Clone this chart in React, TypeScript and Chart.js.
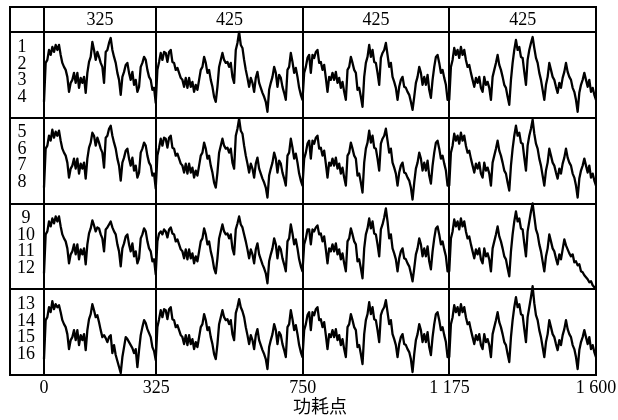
import React, { useEffect, useRef } from 'react';
import { Chart, registerables } from 'chart.js';

Chart.register(...registerables);

const X_MAX = 1600;
const X_TICKS = [0, 325, 750, 1175, 1600];
const X_TICK_LABELS = ['0', '325', '750', '1 175', '1 600'];
const X_TITLE = '功耗点';
const HEADER_LABELS = ['325', '425', '425', '425'];
const ROW_LABELS = [
  ['1', '2', '3', '4'],
  ['5', '6', '7', '8'],
  ['9', '10', '11', '12'],
  ['13', '14', '15', '16'],
];
const LABEL_LEVELS = [71, 54, 38, 21];
const Y_MAX = 86;

const ROW1 = [
  16,55,58,68,63,71,66,73,68,73,
  63,55,51,48,41,26,35,38,45,35,
  45,30,40,35,41,25,45,56,61,76,
  68,58,66,61,55,51,35,66,68,75,
  80,68,61,55,45,38,23,41,46,53,
  55,45,38,46,33,38,26,31,51,55,
  61,58,48,41,38,28,30,15,48,56,
  65,58,66,65,56,66,68,56,55,48,
  50,45,40,38,31,40,30,40,31,36,
  26,33,28,38,48,51,61,55,45,48,
  38,31,21,16,31,51,58,65,58,55,
  56,51,55,41,35,68,75,86,73,70,
  58,48,40,31,40,35,26,40,46,35,
  30,25,21,16,6,28,35,41,51,45,
  31,43,40,31,25,18,48,51,65,56,
  45,50,41,
  30,23,18,45,51,60,63,45,63,60,
  66,68,55,56,48,53,40,26,41,38,
  45,38,46,35,40,30,36,26,18,48,
  51,61,55,48,45,28,30,21,11,41,
  55,61,73,61,68,56,55,45,33,60,
  65,68,75,63,51,55,41,36,30,18,
  31,38,41,31,30,26,23,16,8,21,
  35,41,51,45,33,41,33,43,28,20,
  38,51,61,63,55,45,48,40,33,18,
  18,51,58,70,63,68,60,71,63,68,
  58,51,53,45,38,31,40,35,41,30,
  26,41,33,36,30,18,41,48,55,63,
  53,48,41,33,30,21,13,38,55,68,
  78,68,71,61,60,46,33,58,68,75,
  81,70,60,55,45,38,28,18,33,41,
  55,48,41,38,31,25,35,30,40,46,
  55,46,41,38,30,26,18,6,25,33,
  38,45,38,31,38,26,30,23,18,
];

const ROW2 = [
  16,55,58,68,63,74,66,72,68,73,
  63,55,51,48,41,26,35,38,45,35,
  45,30,40,35,41,25,45,56,61,71,
  68,58,66,61,55,51,36,66,68,75,
  78,68,61,55,45,38,23,41,46,53,
  55,45,38,46,33,38,26,31,51,55,
  61,58,48,41,38,28,30,15,48,56,
  65,58,66,65,56,66,68,56,55,48,
  50,45,40,38,31,40,30,40,31,36,
  26,33,28,38,48,51,61,55,45,48,
  38,31,21,16,31,51,58,65,58,55,
  56,51,55,41,35,68,75,85,73,70,
  58,48,40,31,40,35,26,40,46,35,
  30,25,21,16,6,28,35,41,51,45,
  31,43,40,31,25,18,48,51,65,56,
  45,50,41,
  30,23,18,45,51,60,63,45,63,60,
  66,68,55,56,48,53,40,26,41,38,
  45,38,46,35,40,30,36,26,18,48,
  51,61,55,48,45,28,30,21,11,41,
  55,61,73,61,68,56,55,45,33,60,
  65,68,75,63,51,55,41,36,30,18,
  31,38,41,31,30,26,23,16,4,21,
  35,41,51,45,33,41,33,43,28,20,
  38,51,61,63,55,45,48,40,33,18,
  18,51,58,70,63,68,60,71,63,68,
  58,51,53,45,38,31,40,35,41,30,
  26,41,33,36,30,18,41,48,55,63,
  53,48,41,33,30,21,13,38,55,68,
  78,68,71,61,60,46,33,58,68,75,
  84,70,60,55,45,38,28,18,33,41,
  55,48,41,38,31,25,35,30,40,46,
  55,46,41,38,30,26,18,6,25,33,
  38,45,38,31,38,26,30,23,18,
];

const ROW3 = [
  16,55,58,68,63,71,66,73,68,73,
  63,55,51,48,41,26,35,38,45,35,
  45,30,40,35,41,25,45,56,61,69,
  64,58,62,61,55,51,38,60,62,65,
  68,62,58,55,45,38,23,41,46,53,
  55,45,38,46,33,38,26,31,51,55,
  61,58,48,41,38,28,30,15,48,56,
  58,55,60,58,52,60,62,56,55,48,
  50,45,40,38,31,40,30,40,31,36,
  26,33,28,38,48,51,61,55,45,48,
  38,31,21,16,31,51,58,65,58,55,
  56,51,55,41,35,60,66,73,65,62,
  55,48,40,31,40,35,26,40,46,35,
  30,25,21,16,6,28,35,41,51,45,
  31,43,40,31,25,18,48,51,65,56,
  45,50,41,
  30,23,18,45,51,60,60,45,60,58,
  62,64,55,56,48,53,40,26,41,38,
  45,38,46,35,40,30,36,26,18,48,
  51,61,55,48,45,28,30,21,11,41,
  55,61,71,61,68,56,55,45,33,60,
  65,72,81,68,51,55,41,36,30,18,
  31,38,41,31,30,26,23,16,8,21,
  35,41,51,45,33,41,33,43,28,20,
  38,51,61,63,55,45,48,40,33,18,
  18,51,58,70,63,68,60,71,63,68,
  58,51,53,45,38,31,40,35,41,30,
  26,41,33,36,30,18,41,48,55,63,
  53,48,41,33,30,21,13,38,55,68,
  78,68,71,61,60,46,33,58,68,78,
  86,73,60,55,45,38,28,18,33,41,
  55,48,41,38,31,25,35,30,40,50,
  44,40,36,33,35,27,28,24,25,18,
  17,14,12,10,7,8,4,2,1,
];

const ROW4 = [
  16,55,58,68,63,74,66,71,68,70,
  63,55,51,48,41,26,35,38,45,35,
  45,30,40,35,41,25,45,56,61,71,
  65,58,60,53,45,38,40,37,33,38,
  40,22,30,20,14,8,2,18,28,38,
  36,33,30,27,22,26,8,25,40,48,
  55,52,46,42,38,28,24,15,48,56,
  65,58,66,65,56,66,68,56,55,48,
  50,45,40,38,31,40,30,40,31,36,
  26,33,28,38,48,51,61,55,45,48,
  38,31,21,16,31,51,58,65,58,55,
  56,51,55,41,35,62,68,76,68,64,
  58,48,40,31,40,35,26,40,46,35,
  30,25,21,16,6,28,35,41,51,45,
  31,43,40,31,25,18,48,51,65,56,
  45,50,41,
  30,23,18,45,51,60,63,45,63,60,
  66,68,55,56,48,53,40,26,41,38,
  45,38,46,35,40,30,36,26,18,48,
  51,61,55,48,45,28,30,21,11,41,
  55,61,73,61,68,56,55,45,33,60,
  65,68,75,63,51,55,41,36,30,18,
  31,38,41,31,30,26,23,16,3,21,
  35,41,51,45,33,41,33,43,28,20,
  38,51,61,63,55,45,48,40,33,18,
  18,51,58,70,63,68,60,71,63,68,
  58,51,53,45,38,31,40,35,41,30,
  26,41,33,36,30,18,41,48,55,63,
  53,48,41,33,30,21,13,38,55,68,
  78,68,71,61,60,46,33,58,68,78,
  89,72,60,55,45,38,28,18,33,41,
  55,48,41,38,31,25,35,30,40,46,
  55,46,41,38,30,26,18,6,25,33,
  38,45,38,31,38,26,30,23,18,
];

const ROWS = [ROW1, ROW2, ROW3, ROW4];
const ROW_IDS = ['y1', 'y2', 'y3', 'y4'];

const SERIF = "'Liberation Serif', 'Times New Roman', serif";
const CJK = "'Noto Sans CJK SC', sans-serif";

const framePlugin = {
  id: 'tableFrame',
  afterDraw(chart: any) {
    const ctx = chart.ctx;
    const yh = chart.scales.yh;
    const xs = chart.scales.x;
    const left = Math.round(yh.left);
    const right = Math.round(chart.chartArea.right);
    const ids = ['yh', 'y1', 'y2', 'y3', 'y4'];
    const ys: number[] = [];
    ids.forEach((id) => {
      const s = chart.scales[id];
      [Math.round(s.top), Math.round(s.bottom)].forEach((v) => {
        if (ys.indexOf(v) < 0) ys.push(v);
      });
    });
    ctx.save();
    ctx.strokeStyle = '#000';
    ctx.lineWidth = 2;
    ctx.lineCap = 'square';
    ctx.beginPath();
    ys.forEach((y) => {
      ctx.moveTo(left, y);
      ctx.lineTo(right, y);
    });
    ctx.moveTo(left, Math.round(yh.top));
    ctx.lineTo(left, Math.round(chart.scales.y4.bottom));
    ctx.stroke();

    ctx.fillStyle = '#000';
    ctx.font = `18px ${SERIF}`;
    ctx.textAlign = 'center';
    ctx.textBaseline = 'middle';
    const hy = (yh.top + yh.bottom) / 2 + 1;
    HEADER_LABELS.forEach((t, i) => {
      const cx = (xs.getPixelForValue(X_TICKS[i]) + xs.getPixelForValue(X_TICKS[i + 1])) / 2;
      ctx.fillText(t, cx, hy);
    });
    ctx.restore();
  },
};

const noPad = (s: any) => {
  s.paddingTop = 0;
  s.paddingBottom = 0;
  s.paddingLeft = 0;
  s.paddingRight = 0;
};

function rowScale(r: number) {
  return {
    type: 'linear',
    position: 'left',
    stack: 'rows',
    stackWeight: 85.75,
    min: 0,
    max: Y_MAX,
    afterBuildTicks: (s: any) => {
      s.ticks = LABEL_LEVELS.map((v) => ({ value: v }));
    },
    afterFit: (s: any) => {
      s.width = 34;
      noPad(s);
    },
    ticks: {
      autoSkip: false,
      crossAlign: 'center',
      padding: r < 2 ? 17.5 : 9,
      color: '#000',
      font: { family: SERIF, size: 18 },
      callback: (_v: any, i: number) => ROW_LABELS[r][i],
    },
    grid: { display: false, drawTicks: false },
    border: { display: false },
  };
}

export default function App() {
  const ref = useRef<HTMLCanvasElement>(null);

  useEffect(() => {
    const canvas = ref.current;
    if (!canvas) return;

    const datasets = ROWS.map((row, r) => ({
      type: 'line',
      data: row.map((v, k) => ({ x: (k * X_MAX) / (row.length - 1), y: v })),
      yAxisID: ROW_IDS[r],
      xAxisID: 'x',
      borderColor: '#000',
      borderWidth: 2.3,
      borderJoinStyle: 'round',
      pointRadius: 0,
      tension: 0,
      fill: false,
      clip: false,
    }));

    const scales: any = {
      x: {
        type: 'linear',
        position: 'bottom',
        min: 0,
        max: X_MAX,
        afterBuildTicks: (s: any) => {
          s.ticks = X_TICKS.map((v) => ({ value: v }));
        },
        afterFit: (s: any) => {
          s.height = 45;
          noPad(s);
        },
        ticks: {
          autoSkip: false,
          maxRotation: 0,
          padding: 2,
          color: '#000',
          font: { family: SERIF, size: 18 },
          callback: (_v: any, i: number) => X_TICK_LABELS[i],
        },
        grid: { color: '#000', lineWidth: 2, drawTicks: false },
        border: { display: true, color: '#000', width: 2 },
        title: {
          display: true,
          text: X_TITLE,
          color: '#000',
          font: { family: CJK, size: 18 },
          padding: { top: 0, bottom: 3 },
        },
      },
    };
    for (let r = 3; r >= 0; r--) scales[ROW_IDS[r]] = rowScale(r);
    scales.yh = {
      type: 'linear',
      position: 'left',
      stack: 'rows',
      stackWeight: 25,
      min: 0,
      max: 1,
      afterFit: (s: any) => {
        s.width = 34;
        noPad(s);
      },
      ticks: { display: false },
      grid: { display: false, drawTicks: false },
      border: { display: false },
    };

    const chart = new Chart(canvas, {
      type: 'line',
      data: { datasets } as any,
      options: {
        responsive: false,
        maintainAspectRatio: false,
        animation: false,
        events: [],
        layout: { padding: { left: 10, right: 22, top: 7, bottom: 0 } },
        plugins: {
          legend: { display: false },
          tooltip: { enabled: false },
        },
        scales,
      } as any,
      plugins: [framePlugin],
    });
    return () => chart.destroy();
  }, []);

  return (
    <div style={{ position: 'absolute', left: 0, top: 0, width: 618, height: 420, background: '#fff' }}>
      <canvas ref={ref} width={618} height={420} style={{ display: 'block' }} />
    </div>
  );
}
